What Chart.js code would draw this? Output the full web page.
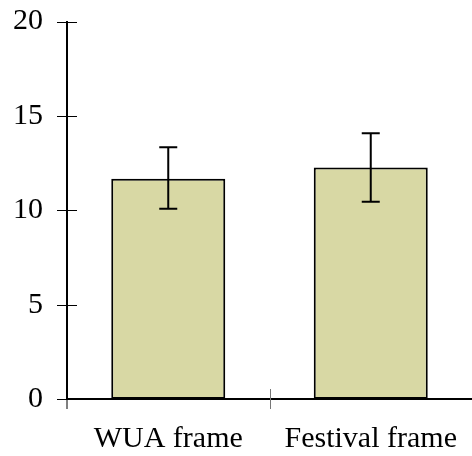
<!DOCTYPE html>
<html>
<head>
<meta charset="utf-8">
<script src="https://cdn.jsdelivr.net/npm/chart.js@4"></script>
<style>
html,body{margin:0;padding:0;background:#fff;}
#wrap{width:472px;height:456px;}
</style>
</head>
<body>
<div id="wrap"><canvas id="c" width="472" height="456"></canvas></div>
<script>
const categories = ["WUA frame", "Festival frame"];
const means = [11.67, 12.26];
const errLow = [10.08, 10.45];
const errHigh = [13.34, 14.08];
const yTicks = [0, 5, 10, 15, 20];

const FONT = "'Liberation Serif', 'DejaVu Serif', serif";

const decor = {
  id: 'decor',
  afterDatasetsDraw(chart) {
    const ctx = chart.ctx, xs = chart.scales.x, ys = chart.scales.y;
    ctx.save();
    // error bars
    ctx.strokeStyle = '#000';
    ctx.lineWidth = 2;
    categories.forEach((c, i) => {
      const px = xs.getPixelForValue(i);
      const t = ys.getPixelForValue(errHigh[i]);
      const b = ys.getPixelForValue(errLow[i]);
      ctx.beginPath();
      ctx.moveTo(px, t); ctx.lineTo(px, b);
      ctx.moveTo(px - 9, t); ctx.lineTo(px + 9, t);
      ctx.moveTo(px - 9, b); ctx.lineTo(px + 9, b);
      ctx.stroke();
    });
    // y tick marks (both sides)
    ctx.lineWidth = 1;
    ctx.strokeStyle = '#000';
    yTicks.forEach(v => {
      const py = Math.round(ys.getPixelForValue(v)) + 0.5;
      ctx.beginPath();
      ctx.moveTo(xs.left - 10, py); ctx.lineTo(xs.left + 10, py);
      ctx.stroke();
    });
    // x tick marks
    const x0 = xs.left;
    const xb = Math.round(xs.getPixelForValue(0.5)) + 0.5;
    const yb = ys.getPixelForValue(0);
    ctx.beginPath();
    ctx.moveTo(x0, yb); ctx.lineTo(x0, yb + 10);
    ctx.stroke();
    ctx.strokeStyle = '#777';
    ctx.beginPath();
    ctx.moveTo(xb, yb - 10); ctx.lineTo(xb, yb + 10);
    ctx.stroke();
    ctx.restore();
  }
};

new Chart(document.getElementById('c'), {
  type: 'bar',
  data: {
    labels: categories,
    datasets: [{
      data: means,
      backgroundColor: 'rgb(216,216,164)',
      borderColor: '#000',
      borderWidth: 2,
      borderSkipped: false,
      categoryPercentage: 1.0,
      barPercentage: 0.563
    }]
  },
  options: {
    responsive: false,
    animation: false,
    devicePixelRatio: 1,
    layout: { padding: { top: 21.5, right: 0, left: 0, bottom: 0 } },
    plugins: { legend: { display: false }, tooltip: { enabled: false } },
    scales: {
      x: {
        offset: true,
        grid: { display: false, drawTicks: false },
        border: { display: true, color: '#000', width: 2 },
        ticks: { color: '#000', font: { family: FONT, size: 30 }, padding: 22 },
        afterFit(s) { s.height = 57; s.paddingLeft = 0; s.paddingRight = 0; }
      },
      y: {
        min: 0, max: 20,
        afterBuildTicks(s) { s.ticks = yTicks.map(v => ({ value: v })); },
        grid: { display: false, drawTicks: false },
        border: { display: true, color: '#000', width: 2 },
        ticks: { color: '#000', font: { family: FONT, size: 30 }, padding: 24 },
        afterFit(s) { s.width = 67; s.paddingTop = 0; s.paddingBottom = 0; }
      }
    }
  },
  plugins: [decor]
});
</script>
</body>
</html>
